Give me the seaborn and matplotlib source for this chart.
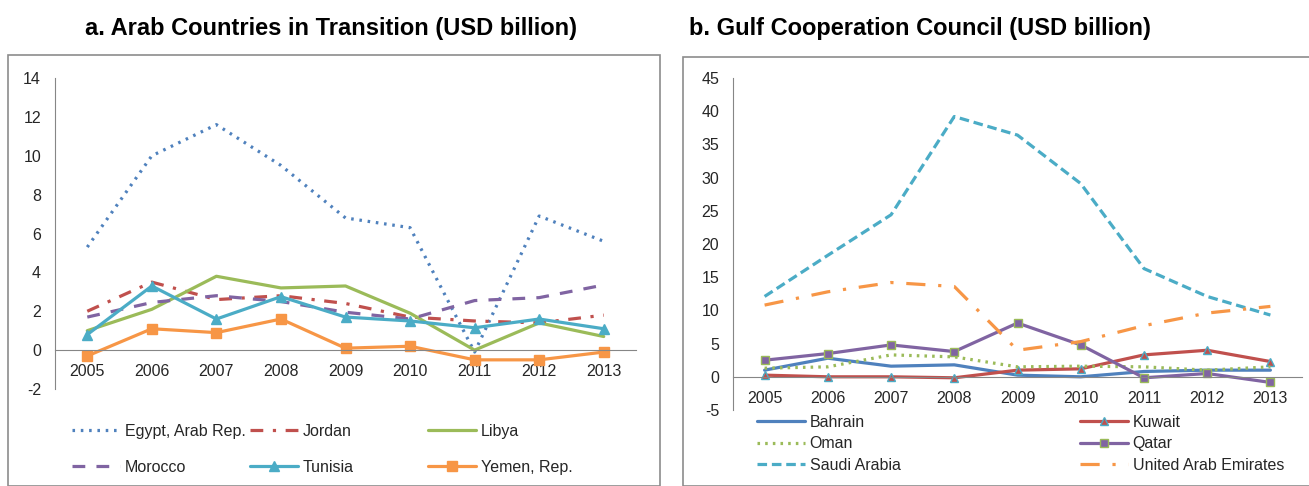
import matplotlib
matplotlib.use("Agg")
import matplotlib.pyplot as plt
from matplotlib.patches import Rectangle
from matplotlib.ticker import FixedLocator, NullFormatter
import seaborn as sns

years = ['2005', '2006', '2007', '2008', '2009', '2010', '2011', '2012', '2013']

# a. Arab countries in transition
egypt = [5.3, 10.0, 11.6, 9.5, 6.8, 6.3, -0.1, 6.9, 5.6]
jordan = [2.0, 3.5, 2.6, 2.8, 2.4, 1.7, 1.5, 1.4, 1.8]
libya = [1.0, 2.1, 3.8, 3.2, 3.3, 1.9, 0.0, 1.4, 0.7]
morocco = [1.7, 2.45, 2.8, 2.5, 1.95, 1.6, 2.55, 2.7, 3.35]
tunisia = [0.8, 3.3, 1.6, 2.75, 1.7, 1.5, 1.15, 1.6, 1.1]
yemen = [-0.3, 1.1, 0.9, 1.6, 0.1, 0.2, -0.5, -0.5, -0.1]

# b. GCC
bahrain = [1.0, 2.8, 1.6, 1.8, 0.25, 0.0, 0.8, 1.0, 1.0]
kuwait = [0.25, 0.0, 0.0, -0.15, 1.0, 1.2, 3.3, 4.0, 2.3]
oman = [1.3, 1.5, 3.3, 3.0, 1.5, 1.6, 1.5, 1.0, 1.5]
qatar = [2.5, 3.5, 4.8, 3.8, 8.1, 4.8, -0.15, 0.5, -0.85]
saudi = [12.1, 18.3, 24.4, 39.2, 36.4, 29.1, 16.3, 12.1, 9.3]
uae = [10.8, 12.8, 14.2, 13.6, 4.0, 5.3, 7.7, 9.6, 10.6]

sns.set_style("white")
plt.rcParams['font.family'] = ['Liberation Sans Narrow', 'Liberation Sans', 'DejaVu Sans']
plt.rcParams['axes.unicode_minus'] = False

BLUE, RED, GREEN, PURPLE, TEAL, ORANGE = '#4F81BD', '#C0504D', '#9BBB59', '#8064A2', '#4BACC6', '#F79646'

fig = plt.figure(figsize=(13.09, 4.86), dpi=100)

# chart-area frames
fig.patches.append(Rectangle((8 / 1309, 0), 652 / 1309, 431 / 486, transform=fig.transFigure,
                             fill=False, edgecolor='#8c8c8c', linewidth=1.2))
fig.patches.append(Rectangle((683 / 1309, 0), 640 / 1309, 429 / 486, transform=fig.transFigure,
                             fill=False, edgecolor='#8c8c8c', linewidth=1.2))

fig.text(331 / 1309, 1 - 28 / 486, 'a. Arab Countries in Transition (USD billion)',
         ha='center', va='center', fontsize=17, fontweight='bold', family='Liberation Sans',
         color='black')
fig.text(920 / 1309, 1 - 28 / 486, 'b. Gulf Cooperation Council (USD billion)',
         ha='center', va='center', fontsize=17, fontweight='bold', family='Liberation Sans',
         color='black')

ax1 = fig.add_axes([55 / 1309, 1 - 389 / 486, 581 / 1309, 311 / 486])
ax2 = fig.add_axes([733 / 1309, 1 - 410 / 486, 569 / 1309, 332 / 486])

series_a = [
    ('Egypt, Arab Rep.', egypt, BLUE, (0, (0.8, 1.8)), None, None),
    ('Jordan', jordan, RED, (0, (4, 3, 1, 3)), None, None),
    ('Libya', libya, GREEN, '-', None, None),
    ('Morocco', morocco, PURPLE, (0, (4, 3.5)), None, None),
    ('Tunisia', tunisia, TEAL, '-', '^', TEAL),
    ('Yemen, Rep.', yemen, ORANGE, '-', 's', ORANGE),
]
series_b = [
    ('Bahrain', bahrain, BLUE, '-', None, None),
    ('Kuwait', kuwait, RED, '-', '^', TEAL),
    ('Oman', oman, GREEN, (0, (0.8, 1.6)), None, None),
    ('Qatar', qatar, PURPLE, '-', 's', GREEN),
    ('Saudi Arabia', saudi, TEAL, (0, (3, 1.5)), None, None),
    ('United Arab Emirates', uae, ORANGE, (0, (6, 4, 1, 4)), None, None),
]


def draw(ax, series, msize):
    handles = {}
    for name, vals, color, ls, marker, medge in series:
        kw = {}
        if marker:
            kw = dict(marker=marker, markersize=msize, markerfacecolor=color,
                      markeredgecolor=medge, markeredgewidth=1.0)
        sns.lineplot(x=years, y=vals, ax=ax, color=color, linestyle=ls, linewidth=2.3,
                     label=name, legend=False, sort=False, **kw)
        handles[name] = ax.get_lines()[-1]
    return handles


h1 = draw(ax1, series_a, 7.5)
h2 = draw(ax2, series_b, 6)

for ax, (lo, hi, step) in [(ax1, (-2, 14, 2)), (ax2, (-5, 45, 5))]:
    ax.set_xlim(-0.5, 8.5)
    ax.set_ylim(lo, hi)
    ax.set_yticks(range(lo, hi + 1, step))
    ax.set_xlabel('')
    ax.set_ylabel('')
    for s in ['top', 'right']:
        ax.spines[s].set_visible(False)
    ax.spines['left'].set_color('#868686')
    ax.spines['bottom'].set_color('#868686')
    ax.spines['bottom'].set_position(('data', 0))
    ax.xaxis.set_minor_locator(FixedLocator([i - 0.5 for i in range(10)]))
    ax.xaxis.set_minor_formatter(NullFormatter())
    ax.tick_params(axis='x', which='major', length=0, pad=10, labelsize=11.5)
    ax.tick_params(axis='x', which='minor', length=6, color='#868686', direction='out')
    ax.tick_params(axis='y', length=4, color='#868686', direction='out', labelsize=11.5, pad=6)
    ax.patch.set_alpha(0)


def legend_col(handles, names, x, y, spacing):
    leg = fig.legend([handles[n] for n in names], names, loc='upper left',
                     bbox_to_anchor=(x / 1309, 1 - y / 486), frameon=False, borderpad=0,
                     borderaxespad=0, handlelength=3.0, handletextpad=0.3,
                     labelspacing=spacing, fontsize=11.5)
    return leg


legend_col(h1, ['Egypt, Arab Rep.', 'Morocco'], 72, 424, 1.3)
legend_col(h1, ['Jordan', 'Tunisia'], 250, 424, 1.3)
legend_col(h1, ['Libya', 'Yemen, Rep.'], 428, 424, 1.3)
legend_col(h2, ['Bahrain', 'Oman', 'Saudi Arabia'], 757, 415, 0.4)
legend_col(h2, ['Kuwait', 'Qatar', 'United Arab Emirates'], 1080, 415, 0.4)

fig.savefig('out.png', dpi=100)
